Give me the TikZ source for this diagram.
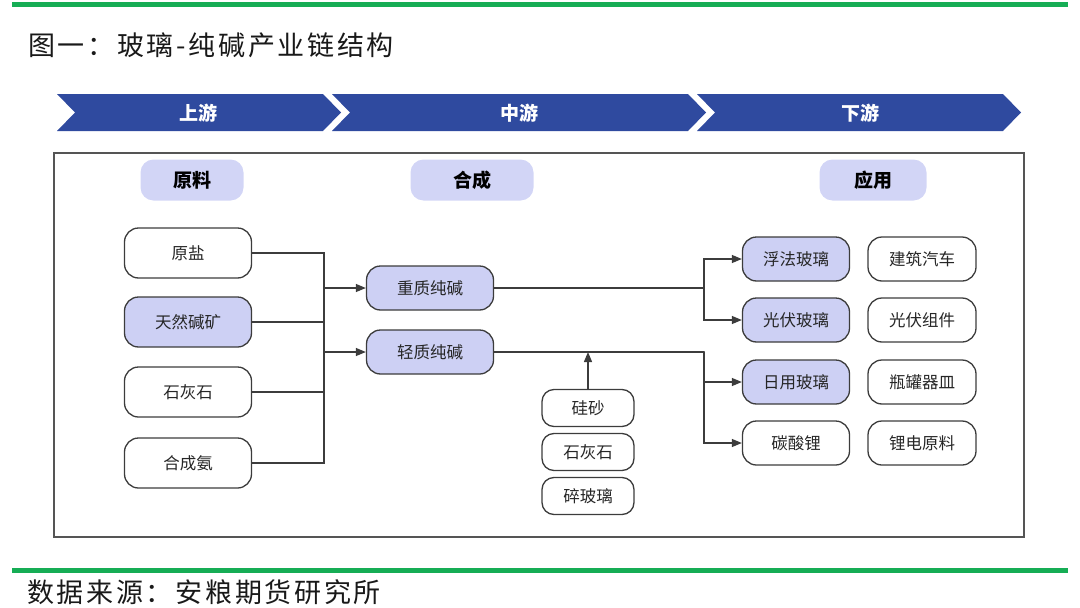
\documentclass[tikz,border=0pt]{standalone}
\usepackage{fontspec}
\newfontfamily\cjk{Noto Sans CJK SC}
\newfontfamily\cjkwide[LetterSpace=10]{Noto Sans CJK SC}
\usepackage{tikz}
\usetikzlibrary{arrows.meta}
\usetikzlibrary{shapes,positioning}

\definecolor{chainblue}{HTML}{2F4A9F}
\definecolor{pilllav}{HTML}{D2D5F6}
\definecolor{boxlav}{HTML}{CDD0F4}
\definecolor{wiregray}{HTML}{3C3C3C}
\definecolor{framegray}{HTML}{555555}
\definecolor{bargreen}{HTML}{16AD55}

\tikzset{>={Triangle[length=10pt,width=8pt]},
  wire/.style={wiregray, line width=1.3pt},
  item/.style={draw=wiregray, line width=1.3pt, rounded corners=14pt,
    text=black!85, inner sep=0pt, font=\cjk\fontsize{16.5}{18}\selectfont},
  leftbox/.style={item, minimum width=127pt, minimum height=50pt},
  sodabox/.style={item, fill=boxlav, minimum width=127pt, minimum height=44pt},
  usebox/.style={item, minimum width=107pt, minimum height=44pt},
  endbox/.style={item, minimum width=108pt, minimum height=44pt},
  addbox/.style={item, rounded corners=12pt, minimum width=92pt, minimum height=37pt},
  pill/.style={fill=pilllav, rounded corners=13pt, minimum height=41pt,
    inner sep=0pt, font=\cjk\bfseries\fontsize{19}{21}\selectfont},
  stage/.style={text=white, font=\cjk\bfseries\fontsize{19}{21}\selectfont},
  caption/.style={anchor=west, inner sep=0pt, text=black!90,
    font=\cjkwide\fontsize{27}{29}\selectfont}}

\begin{document}
\begin{tikzpicture}[x=1pt,y=-1pt,line cap=round]

    \useasboundingbox (0,0) rectangle (1080,608);

    % green rules and captions
    \draw [bargreen, line width=5pt, line cap=butt] (12,4) -- (1068,4);
    \draw [bargreen, line width=5pt, line cap=butt] (12,570) -- (1068,570);
    \node [caption] (title) at (28,45) {图一：玻璃-纯碱产业链结构};
    \node [caption] (source) at (27,592) {数据来源：安粮期货研究所};

    % stage banner
    \fill [chainblue] (57,94) -- (323,94) -- (341,112.5) -- (323,131) -- (57,131) -- (75,112.5) -- cycle;
    \fill [chainblue] (332,94) -- (688,94) -- (706,112.5) -- (688,131) -- (332,131) -- (350,112.5) -- cycle;
    \fill [chainblue] (697,94) -- (1003,94) -- (1021,112.5) -- (1003,131) -- (697,131) -- (715,112.5) -- cycle;
    \node [stage] (up) at (198,113) {上游};
    \node [stage] (mid) at (519,113) {中游};
    \node [stage] (down) at (860,113) {下游};

    % frame
    \draw [framegray, line width=1.5pt] (54,153) rectangle (1024,537);

    % column heads
    \node [pill, minimum width=103pt] (raw) at (192,180) {原料};
    \node [pill, minimum width=123pt] (synth) at (472,180) {合成};
    \node [pill, minimum width=107pt] (app) at (873,180) {应用};

    % raw materials
    \node [leftbox] (salt) at (188,253) {原盐};
    \node [leftbox, fill=boxlav] (trona) at (188,322) {天然碱矿};
    \node [leftbox] (lime) at (188,392) {石灰石};
    \node [leftbox] (ammonia) at (188,463) {合成氨};

    % soda ash
    \node [sodabox] (dense) at (430,288) {重质纯碱};
    \node [sodabox] (light) at (430,352) {轻质纯碱};

    % glass additives
    \node [addbox] (sand) at (588,408) {硅砂};
    \node [addbox] (lime2) at (588,452) {石灰石};
    \node [addbox] (cullet) at (588,496) {碎玻璃};

    % uses
    \node [usebox, fill=boxlav] (float) at (796,259) {浮法玻璃};
    \node [usebox, fill=boxlav] (solar) at (796,320) {光伏玻璃};
    \node [usebox, fill=boxlav] (daily) at (796,382) {日用玻璃};
    \node [usebox] (lico) at (796,443) {碳酸锂};

    \node [endbox] (build) at (922,259) {建筑汽车};
    \node [endbox] (module) at (922,320) {光伏组件};
    \node [endbox] (bottle) at (922,382) {瓶罐器皿};
    \node [endbox] (battery) at (922,443) {锂电原料};

    \coordinate (bus) at (324,0);
    \coordinate (fork) at (704,0);

    % raw -> soda
    \draw [wire] (salt.east) -| (bus |- ammonia.east) -- (ammonia.east);
    \draw [wire] (trona.east) -- (bus |- trona.east);
    \draw [wire] (lime.east) -- (bus |- lime.east);
    \draw [wire, ->] (bus |- dense.west) -- (dense.west);
    \draw [wire, ->] (bus |- light.west) -- (light.west);

    % soda -> glass
    \draw [wire] (dense.east) -- (fork |- dense.east);
    \draw [wire, ->] (fork |- dense.east) |- (float.west);
    \draw [wire, ->] (fork |- dense.east) |- (solar.west);
    \draw [wire] (light.east) -- (fork |- light.east);
    \draw [wire, ->] (fork |- light.east) |- (daily.west);
    \draw [wire, ->] (fork |- light.east) |- (lico.west);
    \draw [wire, ->] (sand.north) -- (sand.north |- light.east);

\end{tikzpicture}
\end{document}
